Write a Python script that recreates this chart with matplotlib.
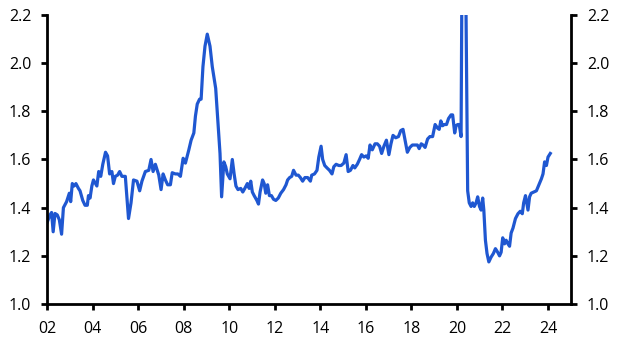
import numpy as np
import matplotlib.pyplot as plt
from matplotlib.ticker import FuncFormatter

# decimal-year dates and values
years = [
    2002.00, 2002.12, 2002.19, 2002.26, 2002.34, 2002.44, 2002.53, 2002.63, 2002.71, 2002.85,
    2002.97, 2003.03, 2003.10, 2003.18, 2003.26, 2003.37, 2003.44, 2003.56, 2003.66, 2003.76,
    2003.81, 2003.88, 2003.96, 2004.03, 2004.18, 2004.26, 2004.35, 2004.44, 2004.56, 2004.65,
    2004.74, 2004.84, 2004.91, 2004.99, 2005.09, 2005.18, 2005.28, 2005.43, 2005.57, 2005.68,
    2005.79, 2005.94, 2006.06, 2006.16, 2006.31, 2006.46, 2006.56, 2006.65, 2006.75, 2006.90,
    2007.00, 2007.09, 2007.19, 2007.29, 2007.41, 2007.49, 2007.63, 2007.74, 2007.85, 2007.97,
    2008.07, 2008.22, 2008.32, 2008.44, 2008.51, 2008.59, 2008.69, 2008.76, 2008.84, 2008.93,
    2009.03, 2009.15, 2009.25, 2009.40, 2009.50, 2009.59, 2009.66, 2009.76, 2009.84, 2009.91,
    2010.03, 2010.13, 2010.21, 2010.29, 2010.38, 2010.50, 2010.59, 2010.68, 2010.79, 2010.87,
    2010.94, 2011.01, 2011.09, 2011.21, 2011.28, 2011.35, 2011.46, 2011.53, 2011.60, 2011.68,
    2011.76, 2011.85, 2011.94, 2012.04, 2012.15, 2012.26, 2012.38, 2012.49, 2012.56, 2012.65,
    2012.74, 2012.82, 2012.93, 2013.03, 2013.12, 2013.22, 2013.32, 2013.44, 2013.56, 2013.62,
    2013.74, 2013.85,
    2013.93, 2014.03, 2014.10, 2014.19, 2014.29, 2014.40, 2014.51, 2014.59, 2014.69, 2014.81,
    2014.91, 2015.03, 2015.13, 2015.22, 2015.32, 2015.43, 2015.51, 2015.62, 2015.72, 2015.81,
    2015.91, 2016.01, 2016.10, 2016.18, 2016.28, 2016.40, 2016.50, 2016.60, 2016.69, 2016.79,
    2016.90, 2017.01, 2017.10, 2017.19, 2017.31, 2017.43, 2017.53, 2017.63, 2017.75, 2017.82,
    2017.93, 2018.04, 2018.16, 2018.26, 2018.34, 2018.43, 2018.51, 2018.60, 2018.71, 2018.81,
    2018.93, 2019.04, 2019.15, 2019.22, 2019.29, 2019.37, 2019.44, 2019.54, 2019.63, 2019.74,
    2019.81, 2019.90, 2019.96, 2020.03, 2020.10, 2020.18, 2020.25, 2020.35, 2020.47, 2020.54,
    2020.62, 2020.69, 2020.76, 2020.84, 2020.91, 2020.99, 2021.06, 2021.13, 2021.18, 2021.25,
    2021.32, 2021.40, 2021.50, 2021.60, 2021.69, 2021.79, 2021.87, 2021.94, 2022.01, 2022.09,
    2022.16, 2022.24, 2022.31, 2022.38, 2022.46, 2022.57, 2022.68, 2022.78, 2022.87, 2022.93,
    2023.01, 2023.12, 2023.19, 2023.26, 2023.37, 2023.49, 2023.60, 2023.71, 2023.78, 2023.85,
    2023.93, 2024.00, 2024.10,
]
values = [
    1.34, 1.37, 1.38, 1.30, 1.376, 1.37, 1.35, 1.29, 1.40, 1.425,
    1.46, 1.425, 1.50, 1.49, 1.50, 1.48, 1.47, 1.43, 1.41, 1.41,
    1.45, 1.44, 1.49, 1.515, 1.49, 1.55, 1.53, 1.58, 1.63, 1.615,
    1.54, 1.55, 1.50, 1.53, 1.535, 1.55, 1.53, 1.53, 1.355, 1.42,
    1.515, 1.51, 1.47, 1.51, 1.55, 1.555, 1.60, 1.55, 1.58, 1.535,
    1.475, 1.54, 1.515, 1.495, 1.495, 1.545, 1.54, 1.54, 1.53, 1.605,
    1.585, 1.64, 1.68, 1.71, 1.78, 1.83, 1.85, 1.85, 1.985, 2.07,
    2.12, 2.07, 1.985, 1.895, 1.75, 1.625, 1.445, 1.59, 1.57, 1.54,
    1.52, 1.60, 1.54, 1.49, 1.475, 1.48, 1.465, 1.48, 1.50, 1.48,
    1.51, 1.465, 1.45, 1.43, 1.415, 1.465, 1.515, 1.50, 1.46, 1.495,
    1.45, 1.45, 1.435, 1.43, 1.44, 1.46, 1.475, 1.495, 1.515, 1.525,
    1.53, 1.555, 1.535, 1.535, 1.525, 1.51, 1.525, 1.525, 1.51, 1.535,
    1.54, 1.555,
    1.61, 1.655, 1.60, 1.575, 1.565, 1.555, 1.54, 1.57, 1.58, 1.575,
    1.575, 1.585, 1.62, 1.55, 1.555, 1.575, 1.565, 1.58, 1.60, 1.62,
    1.61, 1.615, 1.605, 1.66, 1.64, 1.665, 1.665, 1.655, 1.625, 1.655,
    1.68, 1.62, 1.665, 1.70, 1.69, 1.695, 1.72, 1.725, 1.665, 1.63,
    1.65, 1.66, 1.66, 1.66, 1.645, 1.665, 1.66, 1.65, 1.685, 1.695,
    1.695, 1.745, 1.73, 1.725, 1.76, 1.74, 1.745, 1.745, 1.77, 1.785,
    1.785, 1.71, 1.74, 1.745, 1.745, 1.695, 2.90, 2.70, 1.47, 1.42,
    1.405, 1.42, 1.405, 1.42, 1.445, 1.405, 1.39, 1.44, 1.39, 1.265,
    1.21, 1.175, 1.195, 1.21, 1.23, 1.215, 1.20, 1.215, 1.275, 1.25,
    1.265, 1.25, 1.24, 1.295, 1.315, 1.355, 1.375, 1.385, 1.375, 1.42,
    1.45, 1.39, 1.445, 1.46, 1.465, 1.47, 1.495, 1.52, 1.54, 1.59,
    1.575, 1.61, 1.625,
]

xticks = list(range(2002, 2025, 2))
yticks = [1.0, 1.2, 1.4, 1.6, 1.8, 2.0, 2.2]

plt.rcParams['font.family'] = ['Open Sans', 'DejaVu Sans']

fig = plt.figure(figsize=(6.3, 3.54), dpi=100)
ax = fig.add_axes([0.075, 0.141, 0.831, 0.817])

ax.plot(years, values, color='#1f57d1', lw=2.3, solid_joinstyle='round')

ax.set_xlim(2002, 2025)
ax.set_ylim(1.0, 2.2)
ax.set_xticks(xticks)
ax.xaxis.set_major_formatter(FuncFormatter(lambda v, p: f"{int(v) % 100:02d}"))
ax.set_yticks(yticks)
ax.yaxis.set_major_formatter(FuncFormatter(lambda v, p: f"{v:.1f}"))

ax.spines['top'].set_visible(False)
for s in ['left', 'right', 'bottom']:
    ax.spines[s].set_linewidth(2.0)
    ax.spines[s].set_color('black')

ax.tick_params(axis='y', which='both', left=True, right=True, labelleft=True,
               labelright=True, direction='out', length=4, width=2.0, pad=7.5,
               labelsize=11.5, colors='black')
ax.tick_params(axis='x', direction='out', length=4, width=2.0, pad=8,
               labelsize=11.5, colors='black')

fig.savefig('out.png', dpi=100)
